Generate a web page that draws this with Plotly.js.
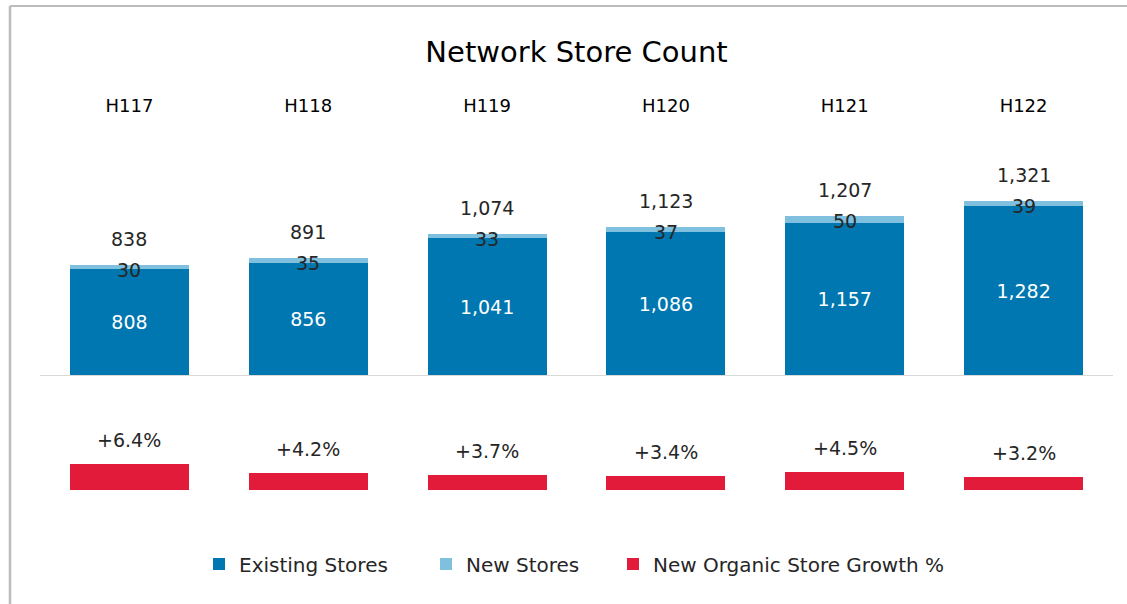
<!DOCTYPE html>
<html>
<head>
<meta charset="utf-8">
<script src="https://cdn.plot.ly/plotly-3.0.1.min.js"></script>
<style>html,body{margin:0;padding:0;background:#fff;}</style>
</head>
<body>
<div id="chart" style="width:1127px;height:604px;"></div>
<script>
const periods = ["H117", "H118", "H119", "H120", "H121", "H122"];
const existingStores = [808, 856, 1041, 1086, 1157, 1282];
const newStores = [30, 35, 33, 37, 50, 39];
const organicGrowth = [6.4, 4.2, 3.7, 3.4, 4.5, 3.2];

const W = 1127, H = 604, ML = 40, MR = 14;
const PW = W - ML - MR;
const px2x = p => (p - ML) / PW;
const py2y = p => 1 - p / H;

const FONT = "DejaVu Sans";
const TXT = "#262626";
const totals = existingStores.map((v, i) => v + newStores[i]);
const fmt = v => v.toLocaleString("en-US");

const traces = [
  {
    type: "bar", name: "Existing Stores", x: periods, y: existingStores,
    xaxis: "x", yaxis: "y", legend: "legend",
    marker: {color: "#0077B0"},
    text: existingStores.map(fmt), textposition: "inside", insidetextanchor: "middle",
    textfont: {family: FONT, size: 19, color: "#ffffff"},
    hoverinfo: "x+y"
  },
  {
    type: "bar", name: "New Stores", x: periods, y: newStores,
    xaxis: "x", yaxis: "y", legend: "legend2",
    marker: {color: "#7FC0DE"},
    textposition: "none", hoverinfo: "x+y"
  },
  {
    type: "bar", name: "New Organic Store Growth %", x: periods, y: organicGrowth,
    xaxis: "x", yaxis: "y2", legend: "legend3",
    marker: {color: "#E31B3B"},
    textposition: "none", hoverinfo: "x+y"
  }
];

const annotations = [];
periods.forEach((p, i) => {
  annotations.push({x: p, y: totals[i], xref: "x", yref: "y", text: fmt(totals[i]),
    showarrow: false, yanchor: "middle", yshift: 26, font: {family: FONT, size: 19, color: TXT}});
  annotations.push({x: p, y: totals[i], xref: "x", yref: "y", text: fmt(newStores[i]),
    showarrow: false, yanchor: "middle", yshift: -5, font: {family: FONT, size: 19, color: TXT}});
  annotations.push({x: p, y: organicGrowth[i], xref: "x", yref: "y2", text: "+" + organicGrowth[i].toFixed(1) + "%",
    showarrow: false, yanchor: "middle", yshift: 24, font: {family: FONT, size: 19, color: TXT}});
});

const legendBase = {
  orientation: "h", xanchor: "left", y: py2y(564), yanchor: "middle",
  bgcolor: "rgba(0,0,0,0)",
  font: {family: FONT, size: 20, color: TXT}
};

const layout = {
  width: W, height: H,
  margin: {l: ML, r: MR, t: 0, b: 0, pad: 0},
  paper_bgcolor: "#ffffff", plot_bgcolor: "#ffffff",
  barmode: "stack", bargap: 0.335,
  showlegend: true,
  title: {text: "Network Store Count", x: 0.5, xref: "paper", xanchor: "center",
    y: py2y(52), yref: "container", yanchor: "middle",
    font: {family: FONT, size: 29, color: "#000000"}},
  xaxis: {
    type: "category", range: [-0.5, 5.5], side: "top", anchor: "y",
    showline: false, showgrid: false, zeroline: false, ticks: "",
    tickfont: {family: FONT, size: 18, color: "#000000"},
    ticklabelstandoff: 8, fixedrange: true
  },
  yaxis: {
    domain: [py2y(376), py2y(125)], range: [0, 1894],
    visible: false, showgrid: false, zeroline: false, fixedrange: true
  },
  yaxis2: {
    domain: [py2y(490), py2y(400)], range: [0, 22.17], anchor: "x",
    visible: false, showgrid: false, zeroline: false, fixedrange: true
  },
  legend: Object.assign({}, legendBase, {x: px2x(199)}),
  legend2: Object.assign({}, legendBase, {x: px2x(426)}),
  legend3: Object.assign({}, legendBase, {x: px2x(613)}),
  shapes: [
    {type: "line", xref: "paper", yref: "y", x0: 0, x1: 1, y0: 0, y1: 0,
      line: {color: "#d9d9d9", width: 2}},
    {type: "line", xref: "paper", yref: "paper", x0: px2x(10), x1: px2x(1127), y0: py2y(6), y1: py2y(6),
      line: {color: "#bcbcbc", width: 2}},
    {type: "line", xref: "paper", yref: "paper", x0: px2x(10), x1: px2x(10), y0: py2y(6), y1: py2y(604),
      line: {color: "#bcbcbc", width: 2.5}}
  ],
  annotations: annotations
};

Plotly.newPlot("chart", traces, layout, {displayModeBar: false, staticPlot: true});
</script>
</body>
</html>
